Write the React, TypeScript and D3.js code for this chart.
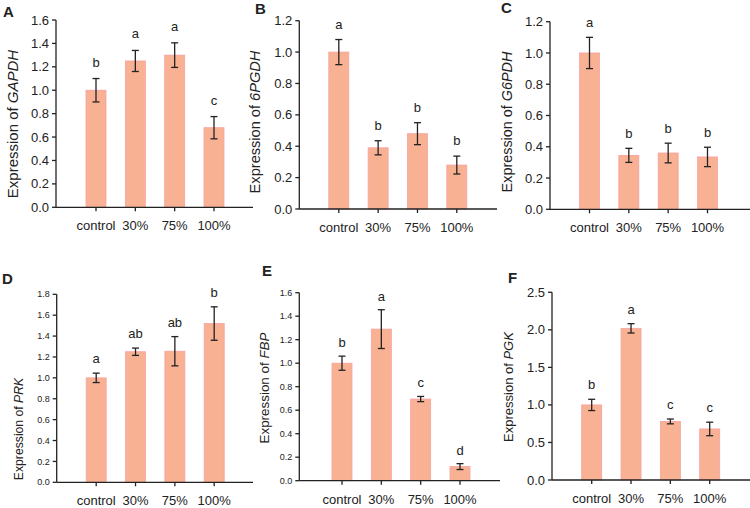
import * as d3 from "d3";

const categories = ["control", "30%", "75%", "100%"];

const gapdhMeans = [1.0, 1.25, 1.3, 0.68];
const gapdhErrors = [0.1, 0.09, 0.105, 0.095];
const gapdhLetters = ["b", "a", "a", "c"];
const gapdhTicks = [0, 0.2, 0.4, 0.6, 0.8, 1.0, 1.2, 1.4, 1.6];

const pgdhMeans = [1.0, 0.39, 0.48, 0.28];
const pgdhErrors = [0.08, 0.045, 0.07, 0.057];
const pgdhLetters = ["a", "b", "b", "b"];
const pgdhTicks = [0, 0.2, 0.4, 0.6, 0.8, 1.0, 1.2];

const g6pdhMeans = [1.0, 0.345, 0.36, 0.335];
const g6pdhErrors = [0.1, 0.045, 0.063, 0.062];
const g6pdhLetters = ["a", "b", "b", "b"];
const g6pdhTicks = [0, 0.2, 0.4, 0.6, 0.8, 1.0, 1.2];

const prkMeans = [1.0, 1.25, 1.255, 1.52];
const prkErrors = [0.045, 0.035, 0.14, 0.16];
const prkLetters = ["a", "ab", "ab", "b"];
const prkTicks = [0, 0.2, 0.4, 0.6, 0.8, 1.0, 1.2, 1.4, 1.6, 1.8];

const fbpMeans = [1.0, 1.29, 0.695, 0.12];
const fbpErrors = [0.06, 0.165, 0.022, 0.025];
const fbpLetters = ["b", "a", "c", "d"];
const fbpTicks = [0, 0.2, 0.4, 0.6, 0.8, 1.0, 1.2, 1.4, 1.6];

const pgkMeans = [1.0, 2.02, 0.78, 0.68];
const pgkErrors = [0.075, 0.062, 0.032, 0.09];
const pgkLetters = ["b", "a", "c", "c"];
const pgkTicks = [0, 0.5, 1.0, 1.5, 2.0, 2.5];

const panels = [
  { tag: "A", gene: "GAPDH", means: gapdhMeans, errors: gapdhErrors, letters: gapdhLetters, ticks: gapdhTicks },
  { tag: "B", gene: "6PGDH", means: pgdhMeans, errors: pgdhErrors, letters: pgdhLetters, ticks: pgdhTicks },
  { tag: "C", gene: "G6PDH", means: g6pdhMeans, errors: g6pdhErrors, letters: g6pdhLetters, ticks: g6pdhTicks },
  { tag: "D", gene: "PRK", means: prkMeans, errors: prkErrors, letters: prkLetters, ticks: prkTicks },
  { tag: "E", gene: "FBP", means: fbpMeans, errors: fbpErrors, letters: fbpLetters, ticks: fbpTicks },
  { tag: "F", gene: "PGK", means: pgkMeans, errors: pgkErrors, letters: pgkLetters, ticks: pgkTicks },
];

// frame of each panel in page pixels
const layouts = [
  { left: 56, right: 253, top: 20, bottom: 207.3, first: 40, tickFont: 13, labelFont: 15, labelDx: 43, labelCy: 124, tagX: 3, tagY: 17, gap: 12 },
  { left: 299.3, right: 497, top: 20.7, bottom: 209, first: 39.5, tickFont: 13, labelFont: 14.6, labelDx: 44, labelCy: 122, tagX: 255, tagY: 14, gap: 11 },
  { left: 550, right: 750, top: 21.7, bottom: 209.3, first: 39.5, tickFont: 13, labelFont: 14.4, labelDx: 43.5, labelCy: 122, tagX: 501, tagY: 13, gap: 10 },
  { left: 56.7, right: 253, top: 294.3, bottom: 482.3, first: 39.5, tickFont: 9, labelFont: 12.2, labelDx: 38.7, labelCy: 429, tagX: 2, tagY: 284, gap: 10 },
  { left: 299.3, right: 500, top: 292.7, bottom: 480.7, first: 42.7, tickFont: 9, labelFont: 13.4, labelDx: 35, labelCy: 388, tagX: 262, tagY: 276, gap: 9 },
  { left: 552, right: 750, top: 292.3, bottom: 480, first: 39.7, tickFont: 13, labelFont: 13, labelDx: 44, labelCy: 387, tagX: 508, tagY: 283, gap: 10 },
];

const font = "Arial, 'Liberation Sans', sans-serif";
const ink = "#222";
const barFill = "#F9B194";
const barStroke = "#F6A2A0";
const barWidth = 20;

const Panel = ({ index }: { index: number }) => {
  const p = panels[index];
  const l = layouts[index];

  const x = d3
    .scalePoint<string>()
    .domain(categories)
    .range([l.left + l.first, l.left + l.first + 118]);
  const y = d3
    .scaleLinear()
    .domain([0, d3.max(p.ticks) ?? 1])
    .range([l.bottom, l.top]);

  return (
    <g fontFamily={font} fill={ink}>
      <text x={l.tagX} y={l.tagY} fontSize={15} fontWeight="bold">
        {p.tag}
      </text>

      {p.means.map((m, i) => {
        const cx = x(categories[i]) as number;
        const hi = y(m + p.errors[i]);
        const lo = y(m - p.errors[i]);
        return (
          <g key={i}>
            <rect
              x={cx - barWidth / 2}
              y={y(m)}
              width={barWidth}
              height={l.bottom - y(m)}
              fill={barFill}
              stroke={barStroke}
              strokeWidth={0.8}
            />
            <g stroke={ink} strokeWidth={1.3}>
              <line x1={cx} x2={cx} y1={hi} y2={lo} />
              <line x1={cx - 3.5} x2={cx + 3.5} y1={hi} y2={hi} />
              <line x1={cx - 3.5} x2={cx + 3.5} y1={lo} y2={lo} />
            </g>
            <text x={cx} y={hi - l.gap} fontSize={13} textAnchor="middle">
              {p.letters[i]}
            </text>
          </g>
        );
      })}

      <g stroke={ink} strokeWidth={1.3} fill="none">
        <line x1={l.left} x2={l.left} y1={l.top} y2={l.bottom} />
        <line x1={l.left} x2={l.right} y1={l.bottom} y2={l.bottom} />
        {p.ticks.map((t) => (
          <line key={t} x1={l.left - 4} x2={l.left} y1={y(t)} y2={y(t)} />
        ))}
        {categories.map((c) => (
          <line key={c} x1={x(c)} x2={x(c)} y1={l.bottom} y2={l.bottom + 4} />
        ))}
      </g>

      {p.ticks.map((t) => (
        <text
          key={t}
          x={l.left - 7}
          y={y(t)}
          dy="0.35em"
          fontSize={l.tickFont}
          textAnchor="end"
        >
          {d3.format(".1f")(t)}
        </text>
      ))}

      {categories.map((c) => (
        <text
          key={c}
          x={x(c)}
          y={l.bottom + 23}
          fontSize={13}
          textAnchor="middle"
        >
          {c}
        </text>
      ))}

      <text
        transform={`translate(${l.left - l.labelDx + 5},${l.labelCy}) rotate(-90)`}
        fontSize={l.labelFont}
        textAnchor="middle"
      >
        Expression of <tspan fontStyle="italic">{p.gene}</tspan>
      </text>
    </g>
  );
};

export default function App() {
  return (
    <div style={{ position: "absolute", left: 0, top: 0 }}>
      <svg width={750} height={508} style={{ display: "block", background: "#fff" }}>
        {panels.map((_p, i) => (
          <Panel key={i} index={i} />
        ))}
      </svg>
    </div>
  );
}
